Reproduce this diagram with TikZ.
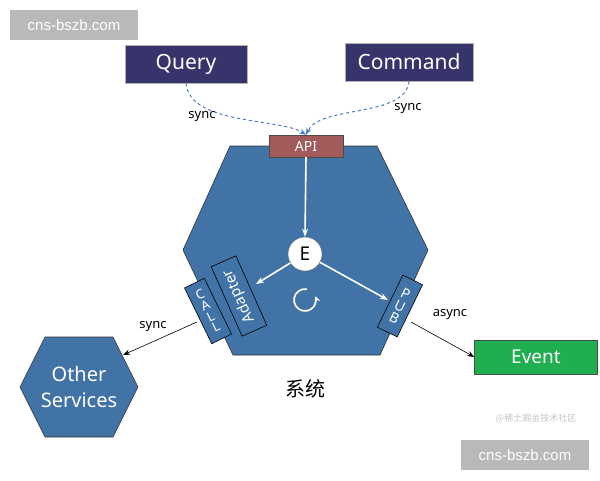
\documentclass[tikz,border=0pt]{standalone}
\usepackage{fontspec}
\setmainfont{Noto Sans}
\newfontfamily\cjk{Noto Sans CJK SC}
\newfontfamily\wm{Liberation Sans}
\usetikzlibrary{arrows.meta}
\definecolor{hexblue}{HTML}{4273A6}
\definecolor{qpurple}{HTML}{37346C}
\definecolor{apired}{HTML}{A35A5A}
\definecolor{evgreen}{HTML}{1FAF4E}
\definecolor{dashblue}{HTML}{4A78C8}
\begin{document}
\begin{tikzpicture}[x=1pt,y=-1pt,
  hex/.style={fill=hexblue,draw=black!80,line width=0.6pt},
  topbox/.style={fill=qpurple,draw=gray!60,line width=1pt,text=white,font=\fontsize{21}{24}\selectfont,minimum height=38pt,inner sep=0pt},
  port/.style={fill=hexblue,draw=black,line width=0.6pt,text=white,font=\fontsize{13}{13}\selectfont,inner sep=2pt,align=center},
  dashconn/.style={dashed,draw=dashblue,line width=1pt,-{Stealth[length=7pt]}},
  warr/.style={white,line width=1.6pt,-{Stealth[length=8pt]}},
  karr/.style={black,line width=0.6pt,-{Stealth[length=7pt]}},
  lbl/.style={font=\fontsize{13}{14}\selectfont},
  wmbox/.style={fill=gray!55,text=white,font=\wm\fontsize{15}{16}\selectfont,minimum width=128pt,minimum height=30pt,inner sep=0pt}]
\useasboundingbox (0,0) rectangle (600,480);
\fill[white] (0,0) rectangle (600,480);
% main hexagon
\draw[hex] (230,146) -- (377,146) -- (428,250) -- (380,355) -- (233,355) -- (183,250) -- cycle;
\node[fill=apired,draw=black!70,text=white,minimum width=74pt,minimum height=22pt,inner sep=0pt,font=\fontsize{14}{14}\selectfont] (api) at (306,146) {API};
\node[topbox,minimum width=122pt] (query) at (186,64) {Query};
\node[topbox,minimum width=128pt] (command) at (409,62) {Command};
\draw[dashconn] (query.south) .. controls (190,125) and (280,118) .. (api.north);
\draw[dashconn] (command.south) .. controls (405,118) and (320,105) .. (api.north);
\node[lbl] (s1) at (202,117) {sync};
\node[lbl] (s2) at (408,109) {sync};
\node[circle,fill=white,draw=black!60,minimum size=34pt,inner sep=0pt,font=\fontsize{19}{20}\selectfont] (E) at (305,254) {E};
\draw[warr] (api.south) -- (E.north);
% ports
\node[port,rotate=26,minimum width=22pt,minimum height=62pt] (call) at (208,311) {C\\[-1pt]A\\[-1pt]L\\[-1pt]L};
\node[port,rotate=114,minimum width=76pt,minimum height=27pt,font=\fontsize{15}{15}\selectfont] (adapter) at (239,296) {Adapter};
\node[port,rotate=-26,minimum width=22pt,minimum height=58pt,font=\fontsize{14}{14}\selectfont] (pub) at (400,306) {P\\[-1pt]U\\[-1pt]B};
\draw[warr] (E) -- (256,284);
\draw[warr] (E) -- (388,300);
\draw[white,line width=1.6pt,-{Stealth[length=6pt,width=6pt]}] (305,300) ++(-80:11) arc[start angle=-80,end angle=-380,radius=11];
% other services
\draw[hex] (20,387) -- (45,337) -- (113,337) -- (138,387) -- (113,437) -- (45,437) -- cycle;
\node[text=white,align=center,font=\fontsize{20}{26}\selectfont] (other) at (79,387) {Other\\Services};
\coordinate (otherpt) at (123,355);
\coordinate (callpt) at (197,322);
\draw[karr] (callpt) -- (otherpt);
\node[lbl] (s3) at (153,327) {sync};
\node[fill=evgreen,draw=black!70,text=white,minimum width=123pt,minimum height=34pt,inner sep=0pt,font=\fontsize{19}{22}\selectfont] (event) at (536,357) {Event};
\coordinate (pubpt) at (411,322);
\draw[karr] (pubpt) -- (event.west);
\node[lbl] (s4) at (450,315) {async};
\node[font=\cjk\fontsize{20}{22}\selectfont] (sys) at (305,389) {系统};
\node[text=gray!45,font=\cjk\fontsize{9}{10}\selectfont] (jj) at (536,418) {@稀土掘金技术社区};
\node[wmbox] (w1) at (74,25) {cns-bszb.com};
\node[wmbox] (w2) at (525,455) {cns-bszb.com};
\end{tikzpicture}
\end{document}
